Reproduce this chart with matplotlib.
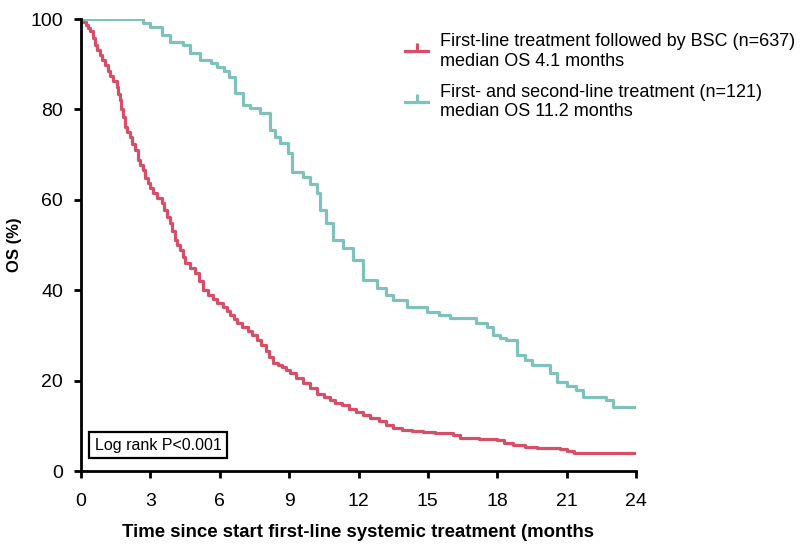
import matplotlib
matplotlib.use("Agg")
import matplotlib.pyplot as plt
from matplotlib.lines import Line2D

plt.rcParams['font.family'] = ['Liberation Sans', 'DejaVu Sans']

# Kaplan-Meier estimates (months, OS %)
bsc_months = [0, 0.1, 0.2, 0.3, 0.39, 0.5, 0.6, 0.7, 0.82, 0.91, 1.04, 1.15, 1.25, 1.4,
              1.56, 1.62, 1.69, 1.73, 1.8, 1.9, 2.0, 2.12, 2.22, 2.34, 2.46, 2.57, 2.68,
              2.77, 2.9, 3.0, 3.11, 3.3, 3.5, 3.6, 3.72, 3.85, 3.95, 4.06, 4.17, 4.28,
              4.4, 4.5, 4.7, 4.93, 5.1, 5.28, 5.5, 5.7, 5.9, 6.14, 6.3, 6.45, 6.6, 6.75,
              6.95, 7.2, 7.4, 7.6, 7.8, 8.0, 8.15, 8.3, 8.5, 8.7, 8.85, 9.04, 9.3, 9.6,
              9.9, 10.2, 10.5, 10.77, 11.0, 11.3, 11.6, 11.9, 12.2, 12.5, 12.9, 13.2,
              13.5, 13.9, 14.3, 14.8, 15.3, 15.8, 16.1, 16.4, 16.8, 17.2, 17.6, 18.0,
              18.3, 18.7, 19.2, 19.7, 20.2, 20.7, 21.0, 21.3, 24]
bsc_os = [100, 99.3, 98.6, 97.9, 97.3, 95.8, 94.2, 93.1, 92, 90.9, 89.8, 88.5, 87.4,
          86.2, 85, 83.5, 82, 80.1, 78.3, 76.1, 75, 73.9, 72.4, 71, 68.8, 67.7, 66.6,
          64.8, 63.7, 62.5, 61.5, 60.4, 59.3, 57.7, 56.2, 54.9, 53, 51.1, 50, 48.9,
          47.4, 46, 44.9, 43.8, 42, 40, 39, 38, 37.1, 36.3, 35.4, 34.5, 33.6, 32.7,
          31.8, 31, 30, 29, 27.8, 26.5, 25.2, 24, 23.5, 23, 22.4, 21.7, 20.6, 19.5,
          18.3, 17, 16.4, 15.7, 15.1, 14.5, 13.8, 13.1, 12.4, 11.8, 11, 10.2, 9.6,
          9.1, 8.8, 8.6, 8.5, 8.4, 7.9, 7.3, 7.2, 7.1, 7.0, 6.9, 6.3, 5.8, 5.4, 5.1,
          5.0, 4.9, 4.4, 4.0, 4.0]

second_months = [0, 2.68, 3.0, 3.5, 3.85, 4.4, 4.7, 5.15, 5.6, 5.9, 6.2, 6.4, 6.66, 7.0,
                 7.3, 7.74, 8.17, 8.4, 8.6, 8.95, 9.12, 9.6, 9.9, 10.2, 10.33, 10.6,
                 10.9, 11.33, 11.76, 12.2, 12.8, 13.2, 13.5, 14.1, 14.96, 15.5, 15.96,
                 17.1, 17.55, 17.8, 18.1, 18.4, 18.85, 19.2, 19.5, 20.3, 20.6, 21.0,
                 21.4, 21.7, 22.7, 23.0, 24]
second_os = [100, 99.2, 98.3, 96.5, 95, 94.2, 92.5, 91, 90.2, 89.4, 88.5, 87.2, 83.6,
             81, 80.2, 79.2, 75.4, 74, 72.6, 70.4, 66.2, 65, 63.5, 61.5, 57.7, 54.9,
             51.1, 49.3, 46.7, 42.3, 40.5, 39, 37.8, 36.3, 35.2, 34.5, 33.8, 32.7,
             31.9, 30, 29.5, 29, 25.7, 24.5, 23.5, 21.7, 19.7, 18.8, 17.9, 16.4,
             15.7, 14.2, 14.2]

x_ticks = [0, 3, 6, 9, 12, 15, 18, 21, 24]
y_ticks = [0, 20, 40, 60, 80, 100]

legend_labels = ["First-line treatment followed by BSC (n=637)\nmedian OS 4.1 months",
                 "First- and second-line treatment (n=121)\nmedian OS 11.2 months"]

red = "#d64f69"
teal = "#7fc2bc"
line_w = 2.3

fig = plt.figure(figsize=(8.08, 5.45), dpi=100)
ax = fig.add_axes([81 / 808, 1 - 471 / 545, 555 / 808, 452 / 545])

ax.plot(bsc_months, bsc_os, drawstyle='steps-post', color=red, lw=line_w)
ax.plot(second_months, second_os, drawstyle='steps-post', color=teal, lw=line_w)

ax.set_xlim(0, 24)
ax.set_ylim(0, 100)
ax.set_xticks(x_ticks)
ax.set_yticks(y_ticks)
ax.set_xticklabels([str(v) for v in x_ticks])
ax.set_yticklabels([str(v) for v in y_ticks])
for s in ['top', 'right']:
    ax.spines[s].set_visible(False)
for s in ['left', 'bottom']:
    ax.spines[s].set_linewidth(2)
ax.tick_params(axis='both', direction='out', length=5, width=2, labelsize=14,
               color='black')
ax.tick_params(axis='x', pad=11)
ax.tick_params(axis='y', pad=8)

ax.set_xlabel("Time since start first-line systemic treatment (months",
              fontsize=13.4, fontweight='bold', labelpad=10)
ax.set_ylabel("OS (%)", fontsize=12, fontweight='bold')
ax.yaxis.set_label_coords(-0.106, 0.5)

ax.text(0.6, 5.7, "Log rank P<0.001", fontsize=11.5, va='center', ha='left',
        bbox=dict(boxstyle='square,pad=0.35', facecolor='white',
                  edgecolor='black', linewidth=1.6))

handles = [Line2D([], [], color=red, lw=line_w, marker=2, markersize=6, mew=2.2),
           Line2D([], [], color=teal, lw=line_w, marker=2, markersize=6, mew=2.2)]
fig.legend(handles, legend_labels, loc='upper left',
           bbox_to_anchor=(405 / 808, 1 - 33 / 545), frameon=False, fontsize=13,
           handlelength=1.28, handletextpad=0.67, labelspacing=0.78,
           borderaxespad=0, borderpad=0)

fig.savefig("out.png", dpi=100)
